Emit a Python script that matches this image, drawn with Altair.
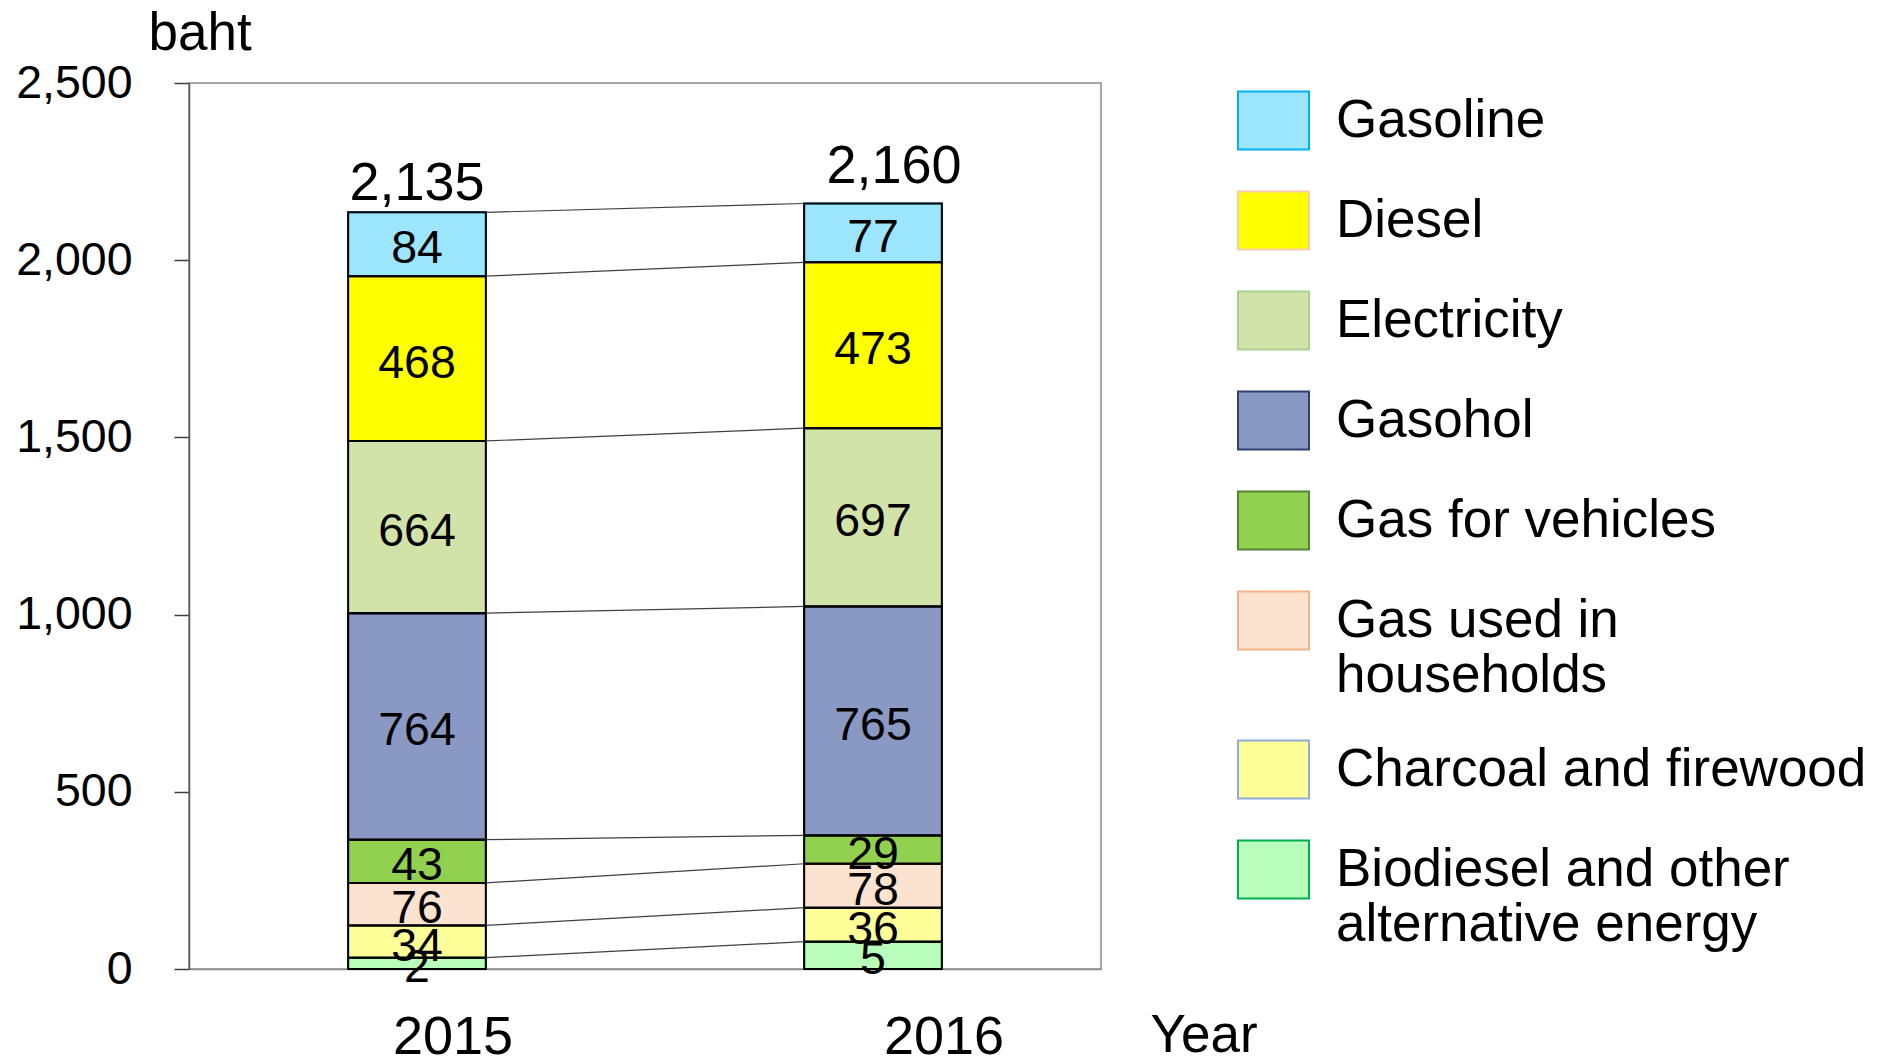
import altair as alt
import pandas as pd

# ---- data ----
years = ["2015", "2016"]
categories = [
    "Gasoline",
    "Diesel",
    "Electricity",
    "Gasohol",
    "Gas for vehicles",
    "Gas used in households",
    "Charcoal and firewood",
    "Biodiesel and other alternative energy",
]
# printed segment values
values_2015 = [84, 468, 664, 764, 43, 76, 34, 2]
values_2016 = [77, 473, 697, 765, 29, 78, 36, 5]
# segment heights as drawn in the picture (baht)
drawn_2015 = [180, 465, 486, 639, 122, 120, 91, 32]
drawn_2016 = [166, 468, 503, 646, 80, 124, 96, 77]

fill_colors = ["#9BE5FD", "#FFFF00", "#D1E3A8", "#8999C3", "#92D050", "#FCE3CF", "#FFFF99", "#B8FDB9"]
border_colors = ["#00B0F0", "#F8CBAD", "#A9D18E", "#2F4070", "#548235", "#F4B183", "#8FAADC", "#00B050"]
y_ticks = [0, 500, 1000, 1500, 2000, 2500]

rows = []
for yr, vals, hts in [("2015", values_2015, drawn_2015), ("2016", values_2016, drawn_2016)]:
    for i, (c, v, h) in enumerate(zip(categories, vals, hts)):
        rows.append({"year": yr, "category": c, "value": v, "height": h, "rank": i})
df = pd.DataFrame(rows)

FONT = "Liberation Sans"

base = alt.Chart(df).transform_stack(
    stack="height", groupby=["year"], as_=["y0", "y1"],
    sort=[alt.SortField("rank", order="descending")],
)

x_scale = alt.Scale(domain=years, paddingInner=0.698, paddingOuter=0.349)
x_axis = alt.Axis(
    labelOffset={"condition": {"test": "datum.value === '2015'", "value": 36}, "value": 71},
    titleX=961, titleY=82, titleAlign="left", titleBaseline="alphabetic",
)
y_scale = alt.Scale(domain=[0, 2500], nice=False, zero=True)
y_axis = alt.Axis(
    values=y_ticks, format=",", labelExpr="format(datum.value, ',')",
    titleAngle=0, titleX=-41, titleY=-34, titleAlign="left", titleBaseline="alphabetic",
)


def X(field, **kw):
    return alt.X(field, title="Year", scale=x_scale, axis=x_axis, **kw)


def Y(field):
    return alt.Y(field, title="baht", scale=y_scale, axis=y_axis)


label_expr = (
    "datum.label === 'Gas used in households' ? ['Gas used in', 'households'] : "
    "datum.label === 'Biodiesel and other alternative energy' ? ['Biodiesel and other', 'alternative energy'] : datum.label"
)

bars_color = base.mark_bar(strokeWidth=2).encode(
    x=X("year:N"),
    y=Y("y0:Q"),
    y2="y1:Q",
    fill=alt.Fill(
        "category:N",
        scale=alt.Scale(domain=categories, range=fill_colors),
        legend=alt.Legend(
            title=None, orient="none", legendX=1048, legendY=1, padding=0,
            symbolType="M-1,-0.817H1V0.817H-1Z", symbolSize=5041, symbolStrokeWidth=2,
            labelFontSize=53, labelFont=FONT, labelColor="black", labelOffset=26,
            labelLimit=1000, rowPadding=30, labelExpr=label_expr,
        ),
    ),
    stroke=alt.Stroke("category:N", scale=alt.Scale(domain=categories, range=border_colors)),
)

bars_outline = base.mark_bar(stroke="black", strokeWidth=2, fillOpacity=0).encode(
    x=X("year:N"),
    y=Y("y0:Q"),
    y2="y1:Q",
)

seg_text = base.transform_calculate(mid="(datum.y0 + datum.y1) / 2").mark_text(
    font=FONT, fontSize=46.5, color="black", baseline="middle", dy=5
).encode(
    x=X("year:N"),
    y=Y("mid:Q"),
    text=alt.Text("value:Q"),
)

connectors = (
    base.transform_pivot("year", value="y1", groupby=["category"])
    .transform_calculate(ya="datum['2015']", yb="datum['2016']", xa="'2015'", xb="'2016'")
    .mark_rule(color="#404040", strokeWidth=1.2)
    .encode(
        x=X("xa:N", bandPosition=1),
        x2=alt.X2("xb:N", bandPosition=0),
        y=Y("ya:Q"),
        y2="yb:Q",
    )
)

totals = (
    alt.Chart(df)
    .transform_aggregate(total="sum(value)", top="sum(height)", groupby=["year"])
    .mark_text(
        font=FONT, fontSize=54, color="black", baseline="alphabetic",
        dx=alt.expr("datum.year === '2016' ? 21 : 0"),
        dy=alt.expr("datum.year === '2016' ? -20 : -12"),
    )
    .encode(
        x=X("year:N"),
        y=Y("top:Q"),
        text=alt.Text("total:Q", format=","),
    )
)

chart = (
    alt.layer(bars_color, bars_outline, connectors, seg_text, totals)
    .resolve_scale(x="shared", y="shared")
    .properties(
        width=912, height=886,
        autosize=alt.AutoSizeParams(type="none"),
        padding={"left": 181, "top": 75, "right": 770, "bottom": 86},
    )
    .configure_view(stroke="#8C8C8C", strokeWidth=1.5)
    .configure_axis(
        labelFont=FONT, titleFont=FONT, labelColor="black", titleColor="black",
        grid=False, titleFontWeight="normal", titleFontSize=53,
    )
    .configure_axisY(
        domainColor="#595959", domainWidth=1.5, tickColor="#404040", tickSize=15, tickWidth=1.5,
        labelFontSize=46.5, labelPadding=42,
    )
    .configure_axisX(
        domainColor="#8C8C8C", domainWidth=1.5, ticks=False, tickSize=0,
        labelFontSize=54, labelPadding=41, labelAngle=0,
    )
)

chart.save("out.html", embed_options={"renderer": "svg", "actions": False})
